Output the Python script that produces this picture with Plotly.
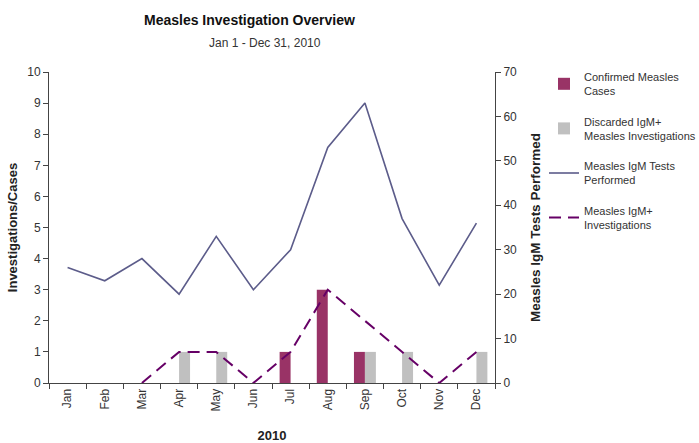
import plotly.graph_objects as go

months = ["Jan", "Feb", "Mar", "Apr", "May", "Jun", "Jul", "Aug", "Sep", "Oct", "Nov", "Dec"]
confirmed_cases = [0, 0, 0, 0, 0, 0, 1, 3, 1, 0, 0, 0]
discarded_igm_pos = [0, 0, 0, 1, 1, 0, 0, 0, 1, 1, 0, 1]
igm_tests = [26, 23, 28, 20, 33, 21, 30, 53, 63, 37, 22, 36]
igm_pos_investigations = [None, None, 0, 1, 1, 0, 1, 3, 2, 1, 0, 1]

FONT = "Liberation Sans, Arial, sans-serif"
TXT = "#333333"

fig = go.Figure()
fig.add_trace(go.Bar(
    x=months, y=confirmed_cases, name="Confirmed Measles<br>Cases", legendgroup="a",
    marker=dict(color="#993366", line=dict(width=0)),
))
fig.add_trace(go.Bar(
    x=months, y=discarded_igm_pos, name="Discarded IgM+<br>Measles Investigations", legendgroup="b",
    marker=dict(color="#c0c0c0", line=dict(width=0)),
))
fig.add_trace(go.Scatter(
    x=months, y=igm_tests, name="Measles IgM Tests<br>Performed", legendgroup="c",
    mode="lines", line=dict(color="#5c5c8a", width=1.6), yaxis="y2",
))
fig.add_trace(go.Scatter(
    x=months, y=igm_pos_investigations, name="Measles IgM+<br>Investigations", legendgroup="d",
    mode="lines", line=dict(color="#660066", width=2, dash="12px,7px"),
    connectgaps=False,
))

axis_common = dict(
    showgrid=False, zeroline=False, showline=True, linecolor="#444444", linewidth=1,
    ticks="outside", ticklen=5, tickcolor="#444444", automargin=False,
    tickfont=dict(family=FONT, size=12, color=TXT),
)

fig.update_layout(
    width=699, height=443,
    margin=dict(l=49, r=204, t=72, b=60),
    plot_bgcolor="white", paper_bgcolor="white",
    barmode="group", bargap=0.41, bargroupgap=0,
    font=dict(family=FONT, color=TXT),
    xaxis=dict(
        **axis_common, tickangle=-90, tickson="boundaries",
        title=dict(text="<b>2010</b>", font=dict(family=FONT, size=13, color="#222"), standoff=21),
    ),
    yaxis=dict(
        **axis_common, range=[0, 10], dtick=1,
        title=dict(text="<b>Investigations/Cases</b>", font=dict(family=FONT, size=13, color="#222"), standoff=6),
    ),
    yaxis2=dict(
        **axis_common, range=[0, 70], dtick=10, overlaying="y", side="right",
        title=dict(text="<b>Measles IgM Tests Performed</b>", font=dict(family=FONT, size=13.5, color="#222"), standoff=14),
    ),
    legend=dict(
        xref="container", yref="container",
        x=544 / 699, y=1 - 63 / 443, xanchor="left", yanchor="top",
        font=dict(family=FONT, size=11, color=TXT),
        traceorder="grouped", itemwidth=30, tracegroupgap=13,
        bgcolor="rgba(0,0,0,0)",
    ),
    showlegend=True,
    annotations=[
        dict(text="<b>Measles Investigation Overview</b>", xref="paper", yref="paper",
             x=0.45, y=1.0, yshift=52, xanchor="center", yanchor="middle", showarrow=False,
             font=dict(family=FONT, size=14, color="#111")),
        dict(text="Jan 1 - Dec 31, 2010", xref="paper", yref="paper",
             x=0.485, y=1.0, yshift=29, xanchor="center", yanchor="middle", showarrow=False,
             font=dict(family=FONT, size=12, color=TXT)),
    ],
)

fig.write_html("out.html")
